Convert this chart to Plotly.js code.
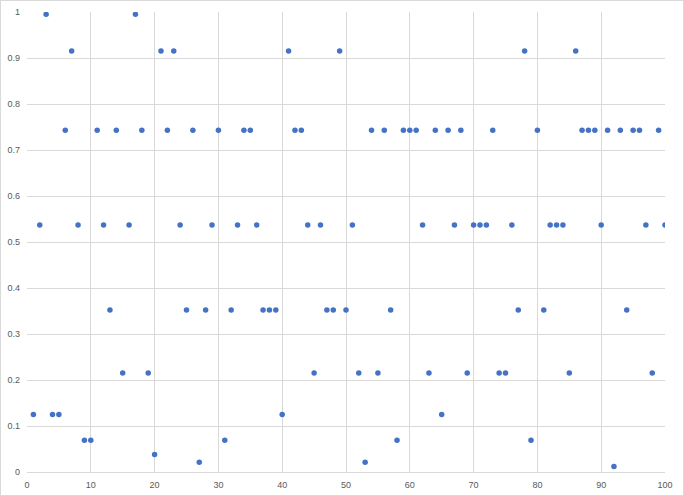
<!DOCTYPE html>
<html>
<head>
<meta charset="utf-8">
<script src="https://cdn.plot.ly/plotly-3.0.1.min.js"></script>
<style>
html,body{margin:0;padding:0;background:#fff;}
#wrap{position:relative;width:684px;height:496px;}
#chart{position:absolute;left:0;top:0;width:684px;height:496px;}
#frame{position:absolute;left:0;top:0;width:684px;height:496px;box-sizing:border-box;border:1px solid #d9d9d9;pointer-events:none;}
</style>
</head>
<body>
<div id="wrap"><div id="chart"></div><div id="frame"></div></div>
<script>
const xValues = [];
for (let i = 1; i <= 100; i++) xValues.push(i);
const yValues = [
  0.125, 0.537, 0.995, 0.125, 0.125, 0.743, 0.915, 0.537, 0.069, 0.069,
  0.743, 0.537, 0.352, 0.743, 0.215, 0.537, 0.995, 0.743, 0.215, 0.038,
  0.915, 0.743, 0.915, 0.537, 0.352, 0.743, 0.021, 0.352, 0.537, 0.743,
  0.069, 0.352, 0.537, 0.743, 0.743, 0.537, 0.352, 0.352, 0.352, 0.125,
  0.915, 0.743, 0.743, 0.537, 0.215, 0.537, 0.352, 0.352, 0.915, 0.352,
  0.537, 0.215, 0.021, 0.743, 0.215, 0.743, 0.352, 0.069, 0.743, 0.743,
  0.743, 0.537, 0.215, 0.743, 0.125, 0.743, 0.537, 0.743, 0.215, 0.537,
  0.537, 0.537, 0.743, 0.215, 0.215, 0.537, 0.352, 0.915, 0.069, 0.743,
  0.352, 0.537, 0.537, 0.537, 0.215, 0.915, 0.743, 0.743, 0.743, 0.537,
  0.743, 0.012, 0.743, 0.352, 0.743, 0.743, 0.537, 0.215, 0.743, 0.537
];
const xTicks = [0, 10, 20, 30, 40, 50, 60, 70, 80, 90, 100];
const yTicks = [0, 0.1, 0.2, 0.3, 0.4, 0.5, 0.6, 0.7, 0.8, 0.9, 1];

const tickFont = {family: 'Liberation Sans, Arial, sans-serif', size: 9, color: '#595959'};

Plotly.newPlot('chart', [{
  type: 'scatter',
  mode: 'markers',
  x: xValues,
  y: yValues,
  marker: {color: '#4472C4', size: 5.5, line: {width: 0}},
  hoverinfo: 'x+y'
}], {
  width: 684, height: 496,
  margin: {l: 27, r: 19, t: 12, b: 24, pad: 0},
  paper_bgcolor: '#ffffff',
  plot_bgcolor: '#ffffff',
  showlegend: false,
  xaxis: {
    range: [0, 100], tickmode: 'array', tickvals: xTicks, ticktext: xTicks.map(String),
    showgrid: true, gridcolor: '#d9d9d9', gridwidth: 1,
    zeroline: false, showline: true, linecolor: '#d9d9d9', linewidth: 1, mirror: false,
    ticks: '', tickfont: tickFont, ticklabelstandoff: 4, fixedrange: true
  },
  yaxis: {
    range: [0, 1], tickmode: 'array', tickvals: yTicks, ticktext: yTicks.map(String),
    showgrid: true, gridcolor: '#d9d9d9', gridwidth: 1,
    zeroline: false, showline: false,
    ticks: '', tickfont: tickFont, ticklabelstandoff: 6, fixedrange: true
  }
}, {displayModeBar: false, staticPlot: true});
</script>
</body>
</html>
